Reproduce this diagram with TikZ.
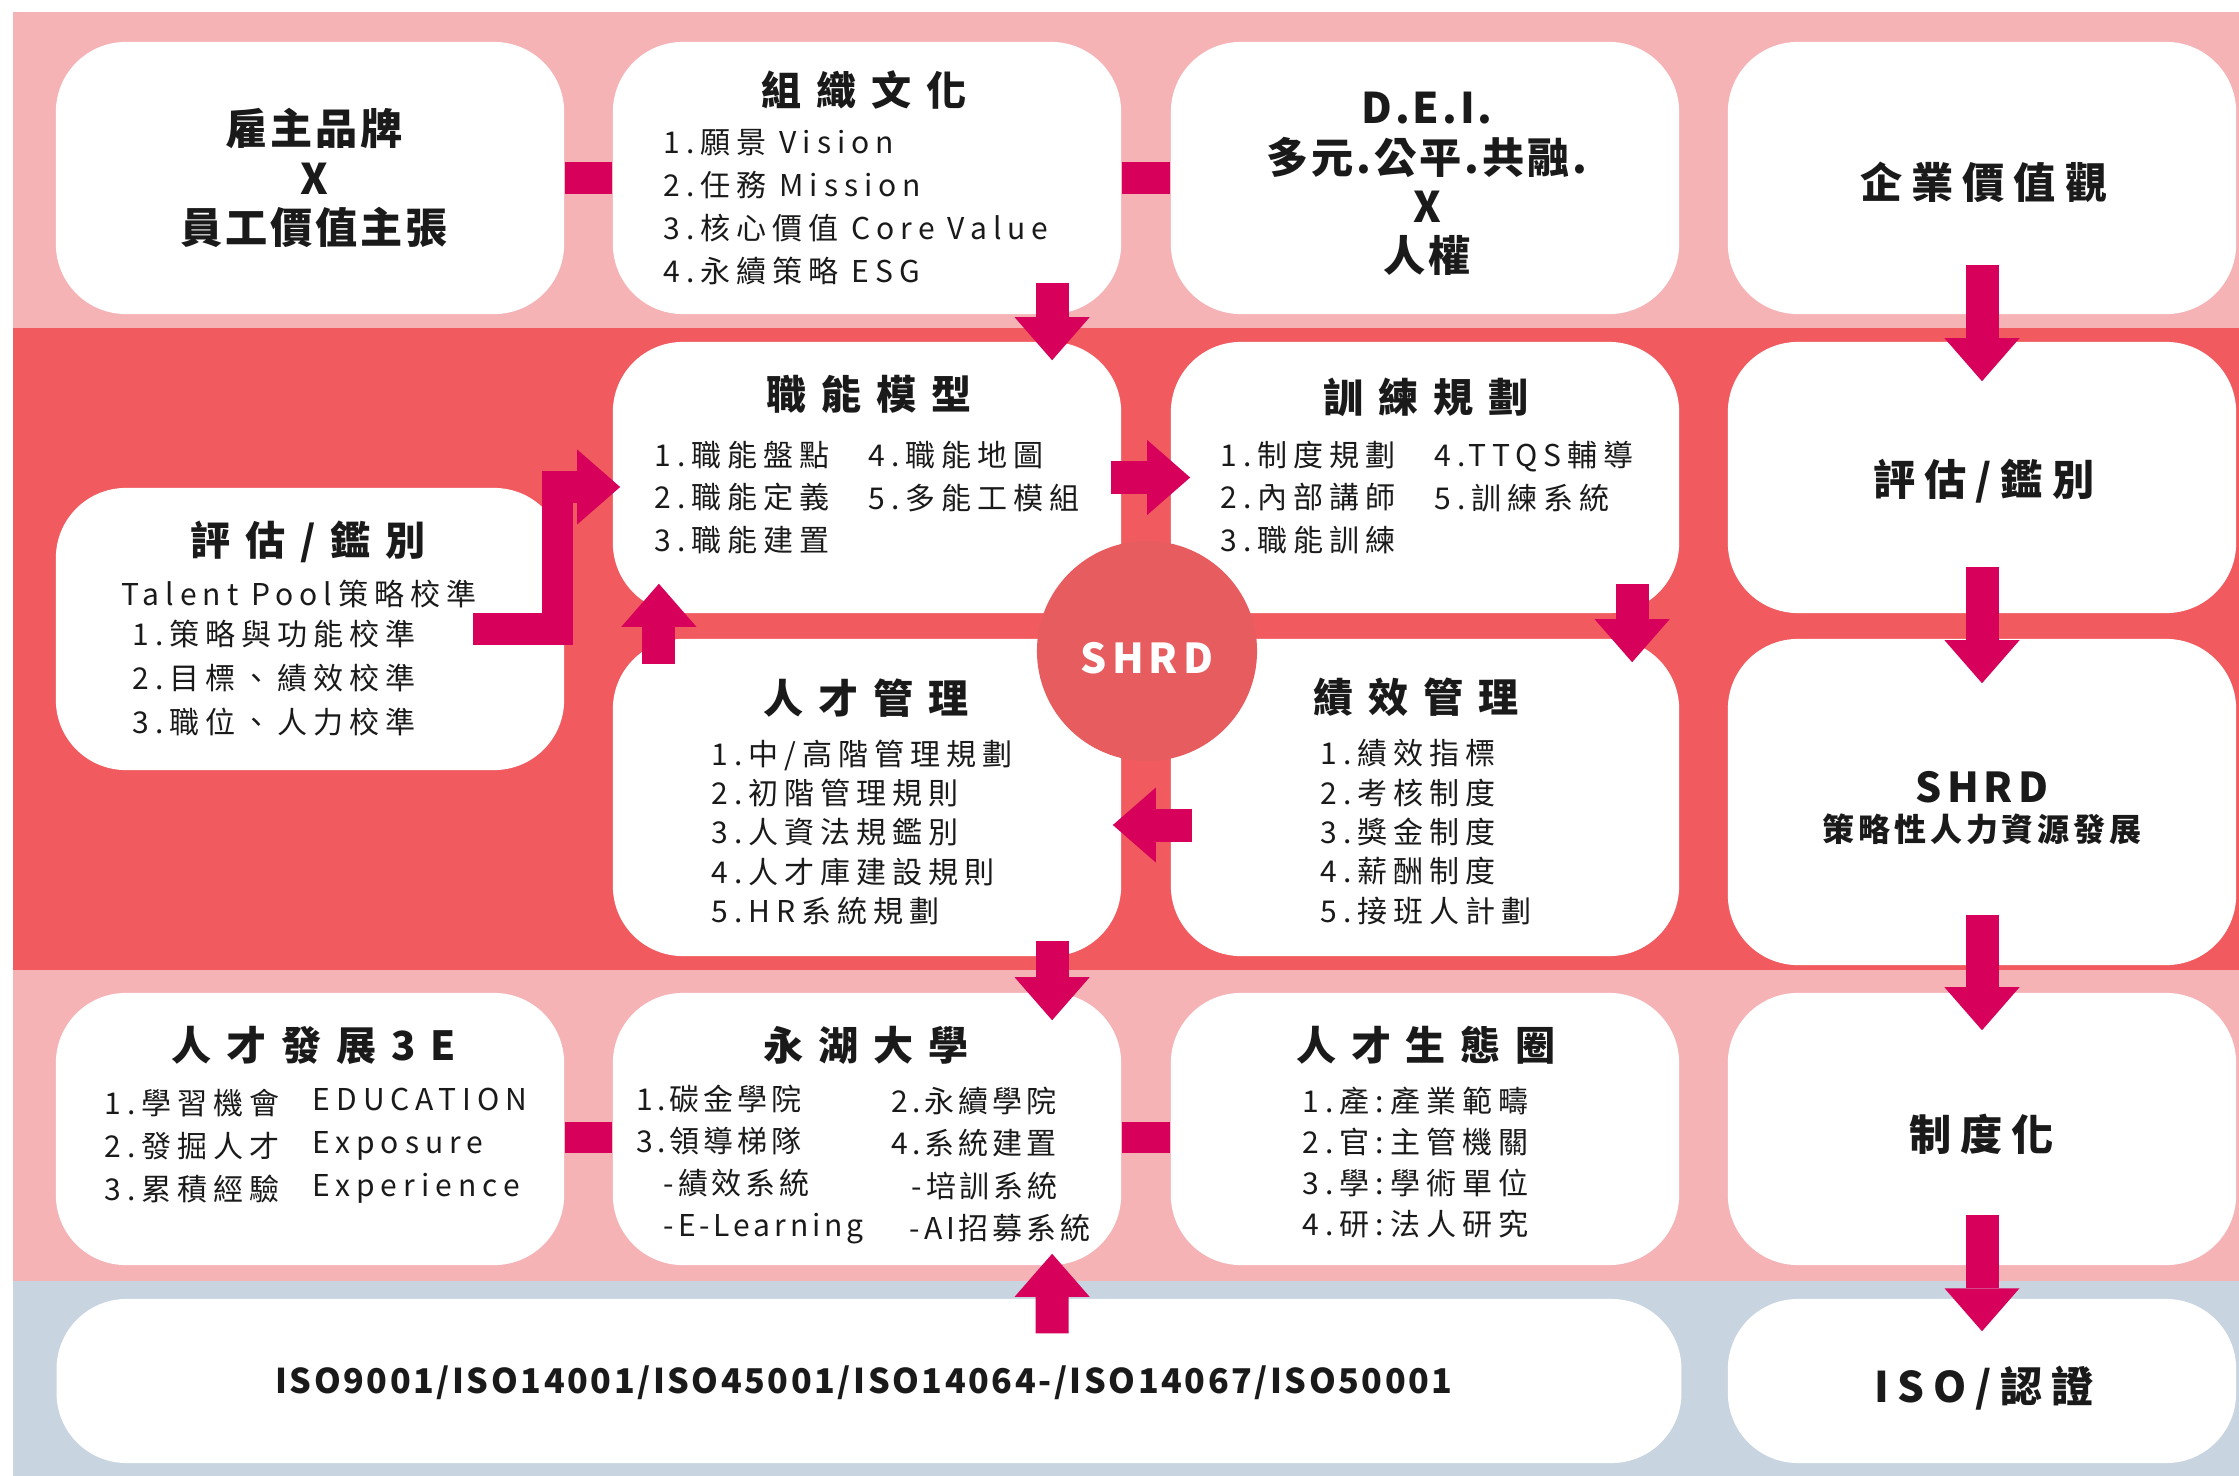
\documentclass[tikz,border=0pt]{standalone}
\usepackage{fontspec}
\setmainfont{Noto Sans CJK TC}
\newfontfamily\lstfont[LetterSpace=20]{Noto Sans CJK TC}
\newfontfamily\lstnarfont[LetterSpace=13]{Noto Sans CJK TC}
\newfontfamily\ttlfont[LetterSpace=37]{Noto Sans CJK TC}
\newfontfamily\bigfont[LetterSpace=7]{Noto Sans CJK TC}
\newfontfamily\lblfont[LetterSpace=21]{Noto Sans CJK TC}
\newfontfamily\shrdfont[LetterSpace=12]{Noto Sans CJK TC}
\newfontfamily\subfont[LetterSpace=12]{Noto Sans CJK TC}
\newfontfamily\isofont[LetterSpace=7.5]{Noto Sans CJK TC}
\usepackage[HTML]{xcolor}
\usepackage{tikz}
\usetikzlibrary{positioning, arrows.meta}

\definecolor{bandpink}{HTML}{F5B3B6}
\definecolor{bandred}{HTML}{F15B5F}
\definecolor{bandblue}{HTML}{C9D4E1}
\definecolor{hubred}{HTML}{E65C5F}
\definecolor{arrowred}{HTML}{D7005A}
\definecolor{inkblack}{HTML}{1A1A1A}

\newcommand{\lsttxt}{\lstfont\fontsize{8.54pt}{12.2pt}\selectfont}
\newcommand{\lsttight}{\lstfont\fontsize{8.54pt}{11.2pt}\selectfont}
\newcommand{\lstnar}{\lstnarfont\fontsize{8.54pt}{12pt}\selectfont}
\newcommand{\ttltxt}{\ttlfont\bfseries\fontsize{11.4pt}{13pt}\selectfont}
\newcommand{\bigtxt}{\bigfont\bfseries\fontsize{12pt}{14pt}\selectfont}
\newcommand{\lbltxt}{\lblfont\bfseries\fontsize{12pt}{14pt}\selectfont}
\newcommand{\shrdtxt}{\shrdfont\bfseries\fontsize{11.7pt}{14pt}\selectfont}
\newcommand{\subtxt}{\subfont\bfseries\fontsize{9.1pt}{11pt}\selectfont}
\newcommand{\isotxt}{\isofont\bfseries\fontsize{9.7pt}{11pt}\selectfont}

\tikzset{
  box/.style={fill=white, rounded corners=0.7cm, inner sep=0pt, minimum width=5.08cm},
  ttl/.style={font=\ttltxt, text=inkblack, inner sep=0pt},
  lbl/.style={font=\lbltxt, text=inkblack, inner sep=0pt, align=center},
  lst/.style={font=\lsttxt, text=inkblack, inner sep=0pt, align=left, anchor=west},
  link/.style={draw=arrowred, line width=0.31cm},
  blk/.style={draw=arrowred, line width=0.33cm,
    -{Triangle[width=0.75cm,length=0.43cm,line width=0pt]}}
}

\begin{document}
\begin{tikzpicture}[x=0.01cm, y=-0.01cm]
\useasboundingbox (0,0) rectangle (2239,1476);
% bands
\fill[bandpink] (13,12) rectangle (2239,328);
\fill[bandred] (13,328) rectangle (2239,970);
\fill[bandpink] (13,970) rectangle (2239,1281);
\fill[bandblue] (13,1281) rectangle (2239,1476);

% top row
\node[box, minimum height=2.72cm] (gzpp) at (310,178) {};
\node[box, minimum height=2.72cm] (zzwh) at (867,178) {};
\node[box, minimum height=2.72cm] (dei) at (1425,178) {};
\node[box, minimum height=2.72cm] (qyjz) at (1982,178) {};
% middle rows
\node[box, minimum height=2.82cm] (pgjb) at (310,629) {};
\node[box, minimum height=2.71cm] (znmx) at (867,477.5) {};
\node[box, minimum height=2.71cm] (xlgh) at (1425,477.5) {};
\node[box, minimum height=2.71cm] (pgjbr) at (1982,477.5) {};
\node[box, minimum height=3.17cm] (rcgl) at (867,797.5) {};
\node[box, minimum height=3.17cm] (jxgl) at (1425,797.5) {};
\node[box, minimum height=3.26cm] (shrdbox) at (1982,802) {};
% lower row
\node[box, minimum height=2.72cm] (rcfz) at (310,1129) {};
\node[box, minimum height=2.72cm] (yhdx) at (867,1129) {};
\node[box, minimum height=2.72cm] (rcst) at (1425,1129) {};
\node[box, minimum height=2.72cm] (zdh) at (1982,1129) {};
% base row
\node[box, minimum width=16.24cm, minimum height=1.64cm] (isobar) at (869,1381) {};
\node[box, minimum height=1.64cm] (isorz) at (1982,1381) {};
% hub
\node[circle, fill=hubred, minimum size=2.2cm, inner sep=0pt] (shrd) at (1147,651) {};

% texts
\node[lbl, font=\bigtxt] (gzpp-t) at (314,178) {雇主品牌\\X\\員工價值主張};
\node[ttl] (zzwh-t) at (864,90) {組織文化};
\node[lst] (zzwh-l) at (663,207) {1.願景 Vision\\2.任務 Mission\\3.核心價值 Core Value\\4.永續策略 ESG};
\node[lbl, font=\bigtxt] (dei-t) at (1427,184) {D.E.I.\\多元.公平.共融.\\X\\人權};
\node[lbl] (qyjz-t) at (1984,182) {企業價值觀};

\node[ttl] (pgjb-t) at (308,542) {評估/鑑別};
\node[lst, anchor=center] (pgjb-s) at (299,594) {Talent Pool策略校準};
\node[lst, font=\lstfont\fontsize{8.54pt}{12.5pt}\selectfont] (pgjb-l) at (132,678) {1.策略與功能校準\\2.目標、績效校準\\3.職位、人力校準};

\node[ttl] (znmx-t) at (869,394) {職能模型};
\node[lst] (znmx-a) at (654,497.5) {1.職能盤點\\2.職能定義\\3.職能建置};
\node[lst] (znmx-b) at (868,476.5) {4.職能地圖\\5.多能工模組};

\node[ttl] (xlgh-t) at (1426,397) {訓練規劃};
\node[lst] (xlgh-a) at (1220,497.5) {1.制度規劃\\2.內部講師\\3.職能訓練};
\node[lst] (xlgh-b) at (1434,476.5) {4.TTQS輔導\\5.訓練系統};
\node[lbl] (pgjbr-t) at (1984,481) {評估/鑑別};

\node[ttl] (rcgl-t) at (866,698) {人才管理};
\node[lst, font=\lsttight] (rcgl-l) at (711,832.5) {1.中/高階管理規劃\\2.初階管理規則\\3.人資法規鑑別\\4.人才庫建設規則\\5.HR系統規劃};
\node[ttl] (jxgl-t) at (1416,697) {績效管理};
\node[lst, font=\lsttight] (jxgl-l) at (1320,832) {1.績效指標\\2.考核制度\\3.獎金制度\\4.薪酬制度\\5.接班人計劃};
\node[font=\shrdtxt, text=inkblack, inner sep=0pt] (shrdbox-t) at (1982,787) {SHRD};
\node[font=\subtxt, text=inkblack, inner sep=0pt] (shrdbox-s) at (1982,829) {策略性人力資源發展};
\node[font=\shrdtxt, text=white, inner sep=0pt] (shrd-t) at (1147,658) {SHRD};

\node[ttl] (rcfz-t) at (314,1045) {人才發展3E};
\node[lst] (rcfz-a) at (104,1146) {1.學習機會\\2.發掘人才\\3.累積經驗};
\node[lst] (rcfz-b) at (312,1146) {EDUCATION\\Exposure\\Experience};
\node[ttl] (yhdx-t) at (866,1045) {永湖大學};
\node[lst, font=\lstnar] (yhdx-a) at (636,1164.5) {1.碳金學院\\3.領導梯隊\\\hspace*{0.27cm}-績效系統\\\hspace*{0.27cm}-E-Learning};
\node[lst, font=\lstnar] (yhdx-b) at (891,1164.5) {2.永續學院\\4.系統建置\\\hspace*{0.2cm}-培訓系統\\\hspace*{0.18cm}-AI招募系統};
\node[ttl] (rcst-t) at (1426,1045) {人才生態圈};
\node[lst, font=\lstfont\fontsize{8.54pt}{11.7pt}\selectfont] (rcst-l) at (1302,1162.5) {1.產:產業範疇\\2.官:主管機關\\3.學:學術單位\\4.研:法人研究};
\node[lbl] (zdh-t) at (1982,1134) {制度化};

\node[font=\isotxt, text=inkblack, inner sep=0pt] (isobar-t) at (864,1383) {ISO9001/ISO14001/ISO45001/ISO14064-/ISO14067/ISO50001};
\node[lbl] (isorz-t) at (1984,1388) {ISO/認證};

% links
\draw[link] (gzpp.east) -- (zzwh.west);
\draw[link] (zzwh.east) -- (dei.west);
\draw[link] ([yshift=-0.08cm]rcfz.east) -- ([yshift=-0.08cm]yhdx.west);
\draw[link] ([yshift=-0.08cm]yhdx.east) -- ([yshift=-0.08cm]rcst.west);

% arrows
\draw[blk] ([xshift=1.85cm,yshift=0.32cm]zzwh.south) -- ([xshift=1.85cm,yshift=-0.19cm]znmx.north);
\draw[blk] ([xshift=-0.11cm]znmx.east) -- ([xshift=0.2cm]xlgh.west);
\draw[blk] ([xshift=2.07cm,yshift=0.3cm]xlgh.south) -- ([xshift=2.07cm,yshift=-0.24cm]jxgl.north);
\draw[blk] ([xshift=0.22cm,yshift=-0.275cm]jxgl.west) -- ([xshift=-0.09cm,yshift=-0.275cm]rcgl.east);
\draw[blk] ([xshift=1.85cm,yshift=0.16cm]rcgl.south) -- ([xshift=1.85cm,yshift=-0.28cm]yhdx.north);
\draw[blk] ([xshift=1.83cm,yshift=-0.35cm]isobar.north) -- ([xshift=1.85cm,yshift=0.12cm]yhdx.south);
\draw[blk] ([xshift=-2.08cm,yshift=-0.26cm]rcgl.north) -- ([xshift=-2.08cm,yshift=0.3cm]znmx.south);
\draw[blk, line width=0.31cm] ([xshift=1.63cm]pgjb.center) -- ++(0.84cm,0) |- ([xshift=0.08cm,yshift=-0.095cm]znmx.west);
\draw[blk] ([yshift=0.5cm]qyjz.south) -- ([yshift=-0.4cm]pgjbr.north);
\draw[blk] ([yshift=0.47cm]pgjbr.south) -- ([yshift=-0.45cm]shrdbox.north);
\draw[blk] ([yshift=0.51cm]shrdbox.south) -- ([yshift=-0.38cm]zdh.north);
\draw[blk] ([yshift=0.51cm]zdh.south) -- ([yshift=-0.33cm]isorz.north);
\end{tikzpicture}
\end{document}
